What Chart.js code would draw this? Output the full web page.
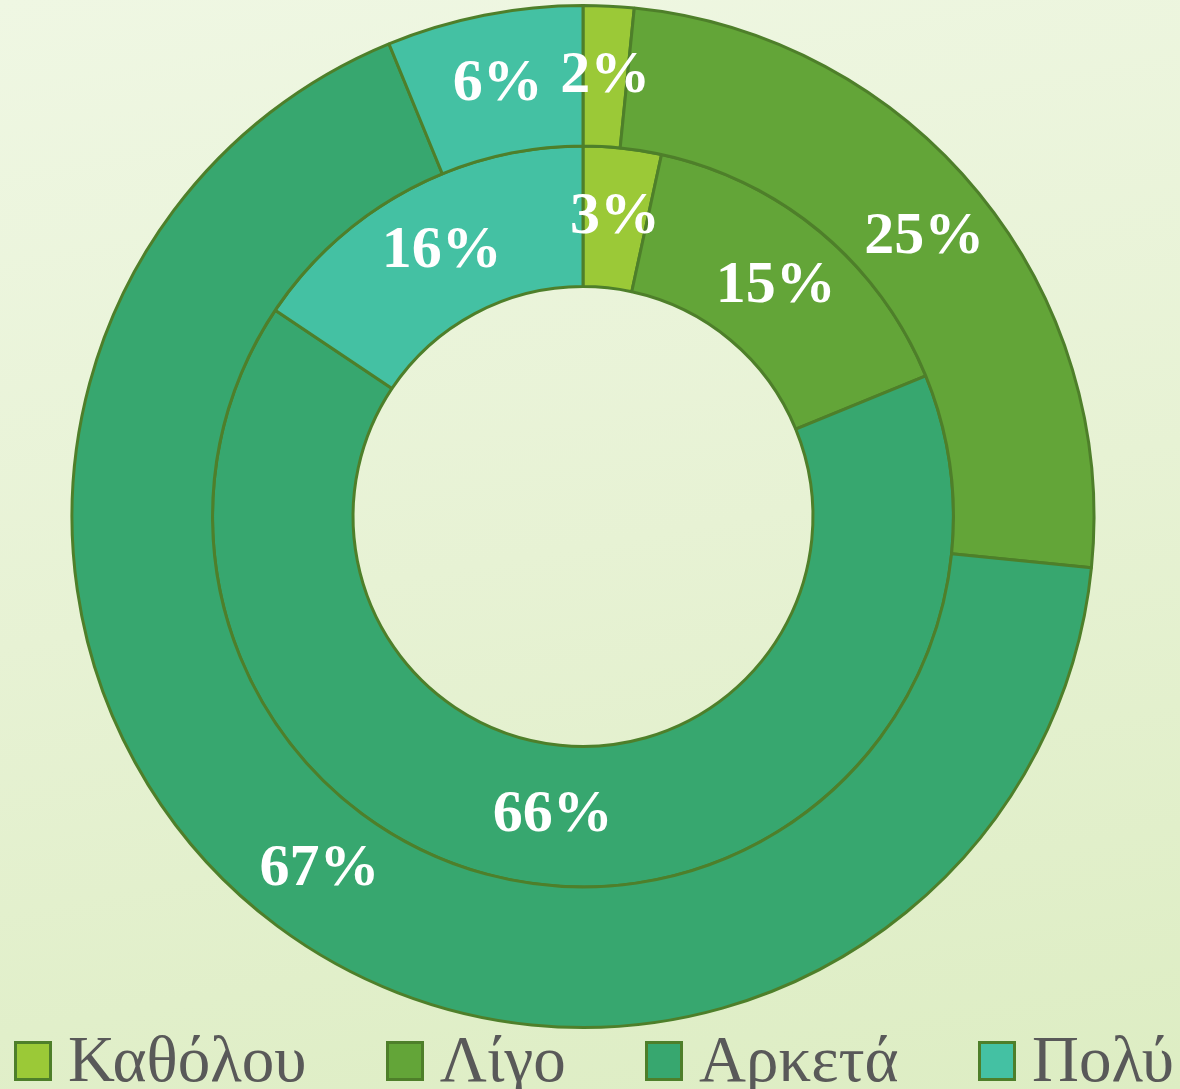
<!DOCTYPE html>
<html>
<head>
<meta charset="utf-8">
<script src="https://cdn.jsdelivr.net/npm/chart.js@4"></script>
<style>
  html, body { margin: 0; padding: 0; }
  body {
    width: 1180px;
    height: 1089px;
    overflow: hidden;
    background: linear-gradient(170deg, #eff7e3 0%, #e7f2d4 50%, #ddedc3 100%);
  }
  #wrap { width: 1180px; height: 1034px; position: relative; }
  #legend {
    position: absolute;
    left: 14px;
    top: 1030px;
    width: 1160px;
    height: 58px;
    display: flex;
    justify-content: space-between;
    align-items: center;
    font-family: 'Liberation Serif', 'DejaVu Serif', serif;
    font-size: 65px;
    color: #595959;
  }
  #legend .item { display: flex; align-items: center; white-space: nowrap; }
  #legend .box {
    display: inline-block;
    width: 32px;
    height: 34px;
    border: 3px solid #4e7f2a;
    margin-right: 16px;
    margin-top: 4px;
  }
</style>
</head>
<body>
<div id="wrap"><canvas id="donutChart"></canvas></div>
<div id="legend"></div>
<script>
// Categories and values (%), outer ring then inner ring
const categories = ["Καθόλου", "Λίγο", "Αρκετά", "Πολύ"];
const outerValues = [1.6, 25.0, 67.2, 6.2];
const innerValues = [3.4, 15.4, 65.6, 15.6];
const sliceColors = ["#9bc937", "#63a538", "#37a76f", "#44c1a3"];
const edgeColor = "#4e7f2a";

// draws the % labels in the middle of each arc
const arcLabels = {
  id: "arcLabels",
  afterDatasetsDraw(chart) {
    const ctx = chart.ctx;
    ctx.save();
    ctx.font = "bold 60px 'Liberation Serif', 'DejaVu Serif', serif";
    ctx.fillStyle = "#ffffff";
    ctx.textAlign = "center";
    ctx.textBaseline = "middle";
    chart.data.datasets.forEach(function (ds, i) {
      chart.getDatasetMeta(i).data.forEach(function (arc, j) {
        const p = arc.tooltipPosition();
        ctx.fillText(Math.round(ds.data[j]) + "%", p.x, p.y);
      });
    });
    ctx.restore();
  },
};

document.addEventListener("DOMContentLoaded", function () {
  // legend
  const legend = document.getElementById("legend");
  categories.forEach(function (c, i) {
    const item = document.createElement("span");
    item.className = "item";
    const box = document.createElement("span");
    box.className = "box";
    box.style.background = sliceColors[i];
    item.appendChild(box);
    item.appendChild(document.createTextNode(c));
    legend.appendChild(item);
  });

  const ctx = document.getElementById("donutChart").getContext("2d");
  new Chart(ctx, {
    type: "doughnut",
    data: {
      labels: categories,
      datasets: [
        {
          data: outerValues,
          backgroundColor: sliceColors,
          borderColor: edgeColor,
          borderWidth: 3,
          hoverOffset: 0,
        },
        {
          data: innerValues,
          backgroundColor: sliceColors,
          borderColor: edgeColor,
          borderWidth: 3,
          hoverOffset: 0,
        },
      ],
    },
    options: {
      responsive: true,
      maintainAspectRatio: false,
      animation: false,
      cutout: "45%",
      layout: { padding: { top: 4, bottom: 5, left: 0, right: 14 } },
      plugins: {
        tooltip: { enabled: false },
        legend: { display: false },
      },
    },
    plugins: [arcLabels],
  });
});
</script>
</body>
</html>
